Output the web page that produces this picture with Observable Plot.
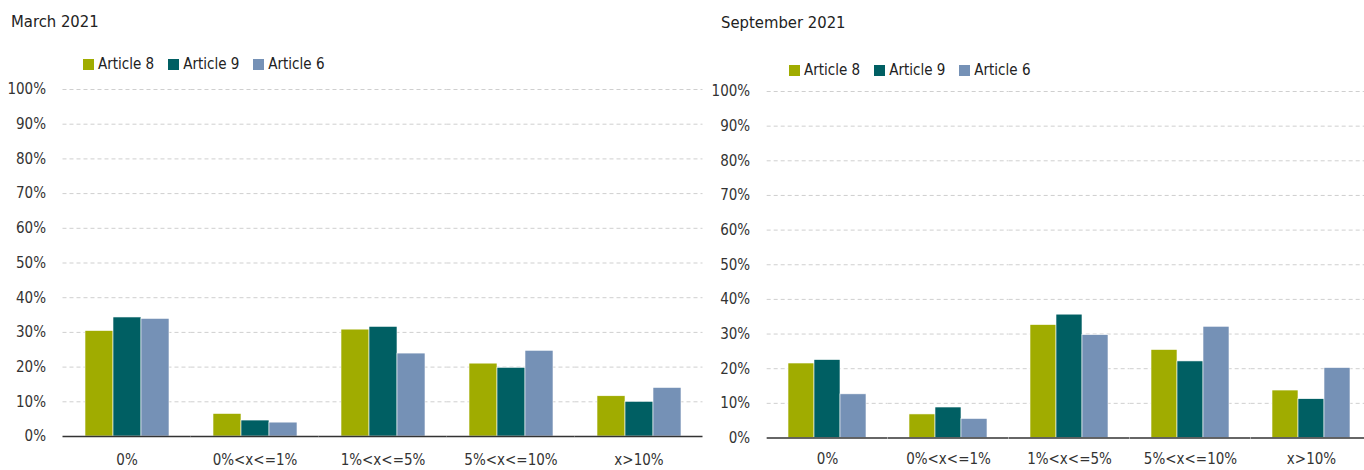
<!DOCTYPE html>
<html><head><meta charset="utf-8">
<script src="https://cdn.jsdelivr.net/npm/d3@7"></script>
<script src="https://cdn.jsdelivr.net/npm/@observablehq/plot@0.6"></script>
<style>
body{margin:0;background:#fff;overflow:hidden}
#wrap{position:relative;width:1364px;height:470px;overflow:hidden;font-family:"DejaVu Sans Condensed","Liberation Sans Narrow","Roboto",sans-serif;color:#222}
.panel{position:absolute;top:0;height:470px;overflow:hidden}
.panel svg{position:absolute;left:0;top:0;max-width:none !important}
.title{position:absolute;font-size:16.5px;line-height:18px;white-space:nowrap;z-index:2}
.legend{position:absolute;display:flex;font-size:15px;line-height:15px;white-space:nowrap;z-index:2}
.item{display:flex;align-items:center;margin-right:14px}
.sw{width:11px;height:11px;margin-right:4px}
</style></head>
<body><div id="wrap"></div>
<script>
const categories = ["0%", "0%<x<=1%", "1%<x<=5%", "5%<x<=10%", "x>10%"];
const series = ["Article 8", "Article 9", "Article 6"];
const colors = ["#A0AC00", "#005F63", "#7591B6"];
const yTicks = [0, 10, 20, 30, 40, 50, 60, 70, 80, 90, 100];

const march2021_article8 = [30.4, 6.5, 30.8, 21.0, 11.6];
const march2021_article9 = [34.3, 4.6, 31.6, 19.8, 10.0];
const march2021_article6 = [33.9, 4.0, 23.9, 24.7, 14.0];

const sept2021_article8 = [21.5, 6.8, 32.6, 25.4, 13.7];
const sept2021_article9 = [22.5, 8.8, 35.6, 22.1, 11.2];
const sept2021_article6 = [12.6, 5.5, 29.7, 32.1, 20.2];

function rows(a8, a9, a6) {
  const out = [];
  categories.forEach((c, i) => {
    out.push({category: c, series: series[0], value: a8[i]});
    out.push({category: c, series: series[1], value: a9[i]});
    out.push({category: c, series: series[2], value: a6[i]});
  });
  return out;
}

const wrap = document.getElementById("wrap");
const font = '"DejaVu Sans Condensed","Liberation Sans Narrow","Roboto",sans-serif';
const padInner = 0.336;

function panel(cfg) {
  const div = document.createElement("div");
  div.className = "panel";
  div.style.left = cfg.left + "px";
  div.style.width = cfg.panelWidth + "px";
  wrap.appendChild(div);

  const data = rows(...cfg.values);
  const step = (cfg.width - cfg.marginLeft) / categories.length;
  const outer = step * padInner / 2;
  const svg = Plot.plot({
    width: cfg.width,
    height: 470,
    marginLeft: cfg.marginLeft,
    marginRight: 0,
    marginTop: cfg.marginTop,
    marginBottom: cfg.marginBottom,
    style: {fontFamily: font, fontSize: "15px", color: "#333", background: "transparent", overflow: "visible"},
    fx: {domain: categories, paddingInner: padInner, paddingOuter: padInner / 2, label: null, tickSize: 0, tickPadding: cfg.xPad, axis: "bottom"},
    x: {domain: series, axis: null, padding: 0},
    y: {domain: [0, 100], ticks: yTicks, tickFormat: d => d + "%", tickSize: 0, tickPadding: 17 + outer, label: null, axis: "left"},
    color: {domain: series, range: colors},
    marks: [
      Plot.gridY(yTicks.filter(d => d > 0), {stroke: "#cfcfcf", strokeOpacity: 1, strokeDasharray: "4,3", insetLeft: -outer, insetRight: -outer}),
      Plot.barY(data, {fx: "category", x: "series", y: "value", fill: "series", stroke: "#fff", strokeWidth: 0.6}),
      Plot.ruleY([0], {stroke: "#333", strokeWidth: 1.5, insetLeft: -outer, insetRight: -outer})
    ]
  });
  div.appendChild(svg);

  const t = document.createElement("div");
  t.className = "title";
  t.textContent = cfg.title;
  t.style.left = cfg.titleX + "px";
  t.style.top = cfg.titleY + "px";
  div.appendChild(t);

  const lg = document.createElement("div");
  lg.className = "legend";
  lg.style.left = cfg.legendX + "px";
  lg.style.top = cfg.legendY + "px";
  series.forEach((s, i) => {
    const it = document.createElement("div");
    it.className = "item";
    const sw = document.createElement("div");
    sw.className = "sw";
    sw.style.background = colors[i];
    const tx = document.createElement("span");
    tx.textContent = s;
    it.appendChild(sw); it.appendChild(tx);
    lg.appendChild(it);
  });
  div.appendChild(lg);
}

panel({left: 0, panelWidth: 710, width: 702, marginLeft: 62, marginTop: 89, marginBottom: 34, xPad: 18,
  values: [march2021_article8, march2021_article9, march2021_article6],
  title: "March 2021", titleX: 11, titleY: 13, legendX: 83, legendY: 57});
panel({left: 710, panelWidth: 654, width: 662, marginLeft: 57, marginTop: 91, marginBottom: 32.5, xPad: 15,
  values: [sept2021_article8, sept2021_article9, sept2021_article6],
  title: "September 2021", titleX: 11, titleY: 14, legendX: 79, legendY: 63});
</script></body></html>
